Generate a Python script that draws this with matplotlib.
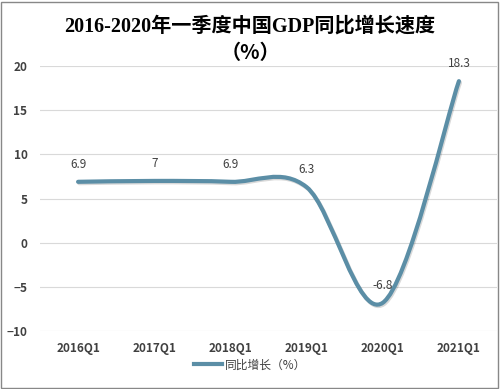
import matplotlib
matplotlib.use('Agg')
import matplotlib.pyplot as plt
import matplotlib.patheffects as pe
from matplotlib.path import Path
from matplotlib.patches import PathPatch, Rectangle
from matplotlib.lines import Line2D
import numpy as np

plt.rcParams['font.family'] = ['Noto Sans CJK SC', 'DejaVu Sans']

# data
quarters = ['2016Q1', '2017Q1', '2018Q1', '2019Q1', '2020Q1', '2021Q1']
growth = [6.9, 7, 6.9, 6.3, -6.8, 18.3]
labels = ['6.9', '7', '6.9', '6.3', '-6.8', '18.3']

line_color = '#5b8ea6'
text_color = '#404040'

fig = plt.figure(figsize=(5, 3.89), dpi=100)
ax = fig.add_axes([0.08, 0.149, 0.914, 0.681])

# smoothed line like excel: bezier segments through the points
x = np.arange(len(growth), dtype=float)
y = np.array(growth, dtype=float)
verts = [(x[0], y[0])]
codes = [Path.MOVETO]
n = len(x)
for i in range(n - 1):
    p0 = np.array([x[max(i - 1, 0)], y[max(i - 1, 0)]])
    p1 = np.array([x[i], y[i]])
    p2 = np.array([x[i + 1], y[i + 1]])
    p3 = np.array([x[min(i + 2, n - 1)], y[min(i + 2, n - 1)]])
    c1 = p1 + (p2 - p0) / 6.0
    c2 = p2 - (p3 - p1) / 6.0
    verts += [tuple(c1), tuple(c2), tuple(p2)]
    codes += [Path.CURVE4] * 3
patch = PathPatch(Path(verts, codes), facecolor='none', edgecolor=line_color,
                  lw=3, capstyle='round', zorder=3,
                  path_effects=[pe.SimpleLineShadow(offset=(0.8, -1), alpha=0.15),
                                pe.Normal()])
ax.add_patch(patch)

for xi, yi, lab in zip(x, y, labels):
    ax.annotate(lab, (xi, yi), xytext=(0, 8), textcoords='offset points',
                ha='center', va='bottom', fontsize=8.5, color=text_color)

ax.set_xlim(-0.5, n - 0.5)
ax.set_ylim(-10, 20)
ax.set_yticks(range(-10, 21, 5))
ax.set_xticks(x)
ax.set_xticklabels(quarters)
ax.grid(axis='y', color='#d9d9d9', lw=0.8)
ax.set_axisbelow(True)
for s in ax.spines.values():
    s.set_visible(False)
ax.tick_params(length=0, colors=text_color, labelsize=8.5)
ax.tick_params(axis='x', pad=8)
ax.tick_params(axis='y', pad=9)
for t in ax.get_xticklabels() + ax.get_yticklabels():
    t.set_fontweight('bold')

fig.text(0.5, 0.932, '2016-2020年一季度中国GDP同比增长速度', ha='center', va='center',
         fontsize=14.5, fontweight='bold', color='black',
         family=['Liberation Serif', 'Noto Sans CJK SC'])
fig.text(0.5, 0.866, '（%）', ha='center', va='center',
         fontsize=14.5, fontweight='bold', color='black',
         family=['Noto Sans CJK SC', 'DejaVu Sans'])

handle = Line2D([], [], color=line_color, lw=3)
fig.legend([handle], ['同比增长（%）'], loc='center', bbox_to_anchor=(0.5, 0.062),
           frameon=False, fontsize=8.5, handlelength=2.4, handletextpad=0.2,
           labelcolor=text_color)

fig.add_artist(Rectangle((0.002, 0.002), 0.994, 0.994, transform=fig.transFigure,
                         fill=False, edgecolor='#888888', lw=1))

fig.savefig('out.png', dpi=100)
